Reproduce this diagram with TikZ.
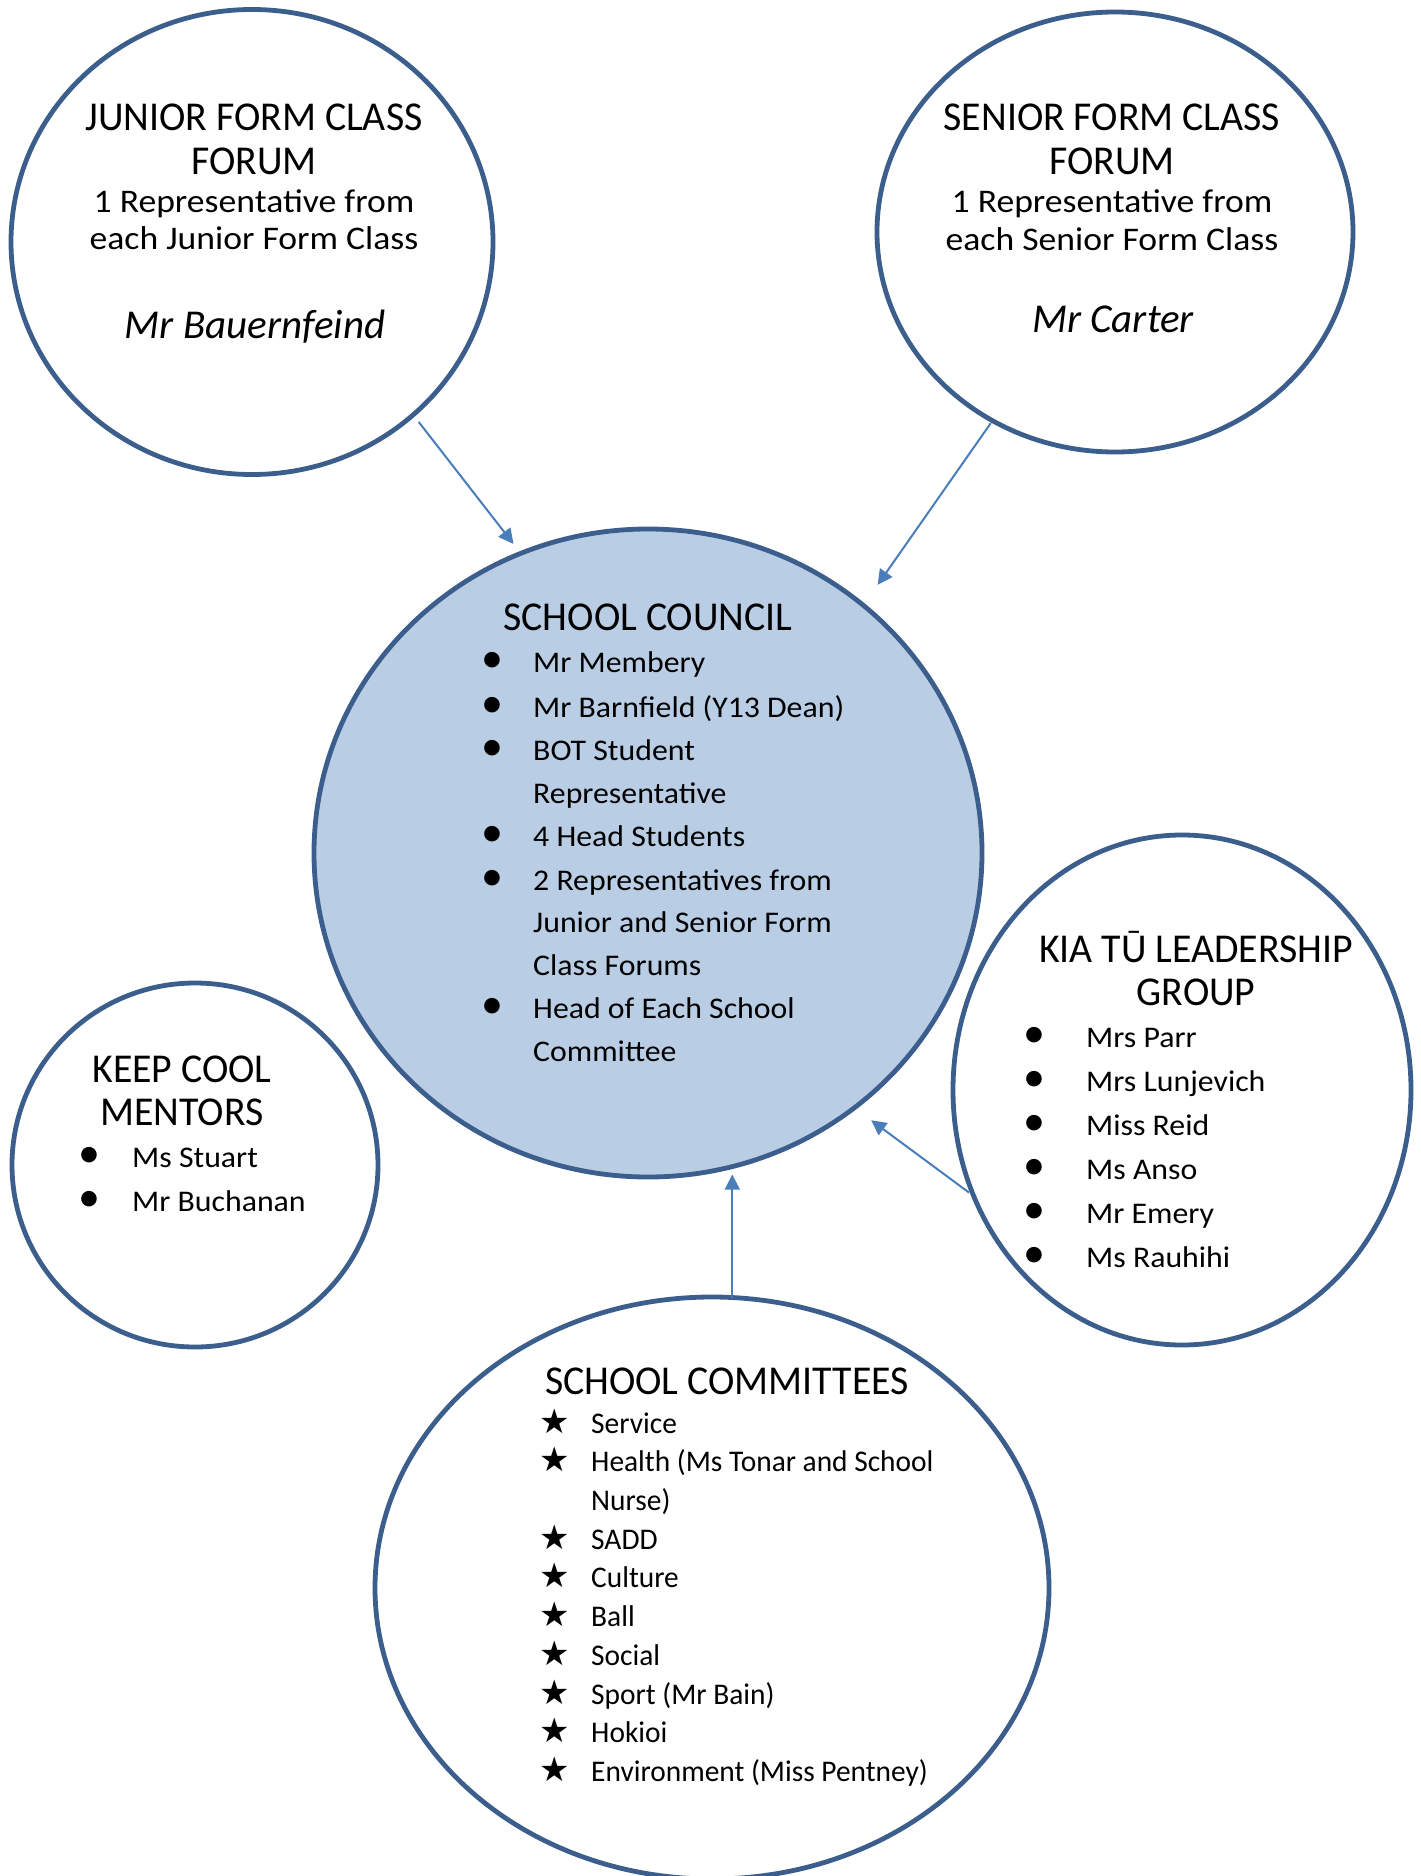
\documentclass[tikz,border=0pt]{standalone}
\usepackage{fontspec}
\setmainfont{Carlito}
\newfontfamily\symfont{DejaVu Sans}
\usetikzlibrary{arrows.meta,shapes.geometric}
\definecolor{ring}{HTML}{3B5E8C}
\definecolor{fillc}{HTML}{B9CDE5}
\definecolor{arr}{HTML}{4A7EBB}
\begin{document}
\begin{tikzpicture}[x=1pt,y=1pt,
  bubble/.style={ellipse, draw=ring, line width=4.8pt, inner sep=0pt, outer sep=0pt},
  conn/.style={draw=arr, line width=2pt, -{Triangle[length=15pt,width=15pt]}},
  ttl/.style={anchor=base, inner sep=0pt, font=\fontsize{41}{41}\selectfont\addfontfeature{FakeStretch=0.97}},
  bod/.style={anchor=base, inner sep=0pt, font=\fontsize{33}{33}\selectfont\addfontfeature{FakeStretch=1.08}},
  nam/.style={anchor=base, inner sep=0pt, font=\fontsize{41}{41}\selectfont\itshape},
  item/.style={anchor=base west, inner sep=0pt, font=\fontsize{30}{30}\selectfont\addfontfeature{FakeStretch=1.06}},
  itemb/.style={anchor=base west, inner sep=0pt, font=\fontsize{30}{30}\selectfont\addfontfeature{FakeStretch=0.98}},
  bul/.style={anchor=base, inner sep=0pt, font=\fontsize{44}{44}\selectfont},
  str/.style={anchor=base, inner sep=0pt, font=\symfont\fontsize{34}{34}\selectfont},
]
\useasboundingbox (0,0) rectangle (1421,-1876);
\fill[white] (0,0) rectangle (1421,-1876);

% circles
\node[bubble, minimum width=482pt, minimum height=465pt] (junior) at (252,-242) {};
\node[bubble, minimum width=476pt, minimum height=440pt] (senior) at (1115,-232) {};
\node[bubble, fill=fillc, minimum width=668pt, minimum height=648pt] (council) at (648,-853) {};
\node[bubble, minimum width=458pt, minimum height=510pt] (kia) at (1182,-1090) {};
\node[bubble, minimum width=366pt, minimum height=364pt] (keep) at (195,-1165) {};
\node[bubble, minimum width=674pt, minimum height=582pt] (comm) at (712,-1588) {};

% connectors
\draw[conn, shorten <=9pt, shorten >=12pt] (junior.-47.6) -- (council.113.2);
\draw[conn, shorten <=3pt, shorten >=25pt] (senior.237.9) -- (council.49.1);
\draw[conn, shorten <=6pt, shorten >=21pt] (kia.207.7) -- (council.-51.3);
\draw[conn, shorten >=8pt] (comm.86.5) -- (comm.86.5 |- council.-75.7);

% junior
\node[ttl] (j1) at (254,-130) {JUNIOR FORM CLASS};
\node[ttl] (j2) at (254,-174) {FORUM};
\node[bod] (j3) at (254,-212) {1 Representative from};
\node[bod] (j4) at (254,-249) {each Junior Form Class};
\node[nam] (j5) at (255,-338) {Mr Bauernfeind};

% senior
\node[ttl] (s1) at (1112,-130) {SENIOR FORM CLASS};
\node[ttl] (s2) at (1112,-174) {FORUM};
\node[bod] (s3) at (1112,-212) {1 Representative from};
\node[bod] (s4) at (1112,-250) {each Senior Form Class};
\node[nam] (s5) at (1113,-332) {Mr Carter};

% council
\node[ttl] (c0) at (648,-630) {SCHOOL COUNCIL};
\foreach \y/\t [count=\i] in {672/Mr Membery, 717/Mr Barnfield (Y13 Dean), 760/BOT Student,
  803/Representative, 846/4 Head Students, 890/2 Representatives from,
  932/Junior and Senior Form, 975/Class Forums, 1018/Head of Each School, 1061/Committee}
  \node[item] (c\i) at (533,-\y) {\t};
\foreach \y [count=\i] in {672,717,760,846,890,1018}
  \node[bul] (cb\i) at (492,-\y) {•};

% kia tu
\node[ttl] (k0) at (1196,-962) {KIA TŪ LEADERSHIP};
\node[ttl] (k00) at (1196,-1005) {GROUP};
\foreach \y/\t [count=\i] in {1047/Mrs Parr, 1091/Mrs Lunjevich, 1135/Miss Reid,
  1179/Ms Anso, 1223/Mr Emery, 1267/Ms Rauhihi}{
  \node[item] (k\i) at (1086,-\y) {\t};
  \node[bul] (kb\i) at (1034,-\y) {•};
}

% keep cool
\node[ttl] (m0) at (182,-1082) {KEEP COOL};
\node[ttl] (m00) at (182,-1125) {MENTORS};
\foreach \y/\t [count=\i] in {1167/Ms Stuart, 1211/Mr Buchanan}{
  \node[item] (m\i) at (132,-\y) {\t};
  \node[bul] (mb\i) at (89,-\y) {•};
}

% committees
\node[ttl] (q0) at (727,-1394) {SCHOOL COMMITTEES};
\foreach \y/\t [count=\i] in {1433/Service, 1471/Health (Ms Tonar and School, 1510/Nurse),
  1549/SADD, 1587/Culture, 1626/Ball, 1665/Social, 1704/Sport (Mr Bain),
  1742/Hokioi, 1781/Environment (Miss Pentney)}
  \node[itemb] (q\i) at (591,-\y) {\t};
\foreach \y [count=\i] in {1433,1471,1549,1587,1626,1665,1704,1742,1781}
  \node[str] (qs\i) at (555,-\y) {★};
\end{tikzpicture}
\end{document}
